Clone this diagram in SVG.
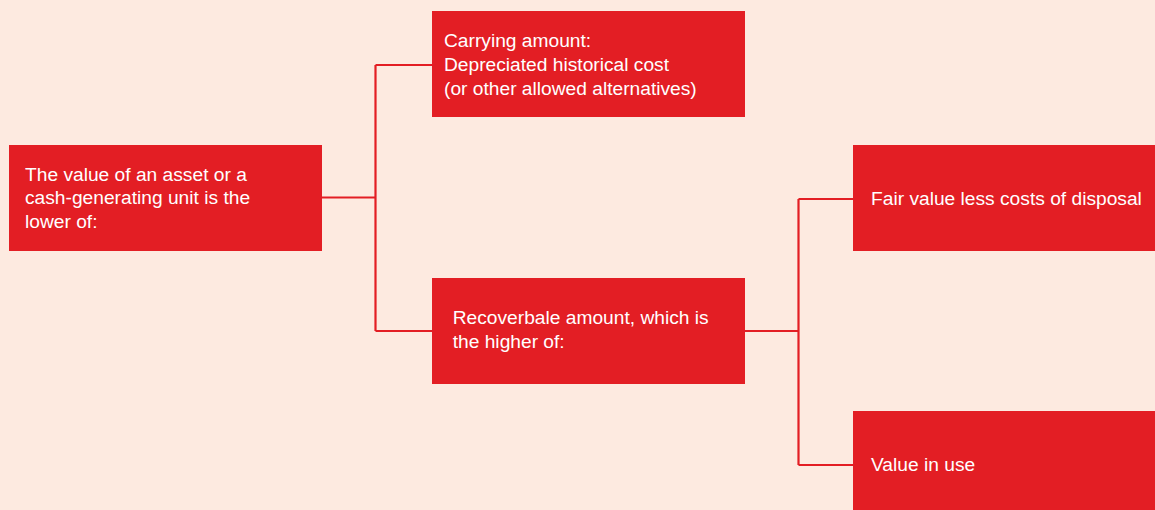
<svg xmlns="http://www.w3.org/2000/svg" width="1155" height="510" viewBox="0 0 1155 510">
<style>
.box{fill:#E31E24}
.t{font-family:"Liberation Sans",Arial,sans-serif;font-size:19.2px;fill:#FFFFFF}
.c{fill:none;stroke:#E31E24;stroke-width:2.2}
</style>
<rect width="1155" height="510" fill="#FDEAE0"/>
<g id="connectors">
<path class="c" d="M322 197.5 H375.5 M375.5 65 V331 M375.5 65 H432 M375.5 331 H432"/>
<path class="c" d="M745 331 H798.5 M798.5 199 V465 M798.5 199 H853 M798.5 465 H853"/>
</g>
<g id="node-value">
<rect class="box" x="9" y="145" width="313" height="106"/>
<text class="t"><tspan x="25" y="180.7">The value of an asset or a</tspan><tspan x="25" y="204.2">cash-generating unit is the</tspan><tspan x="25" y="227.7">lower of:</tspan></text>
</g>
<g id="node-carrying">
<rect class="box" x="432" y="11" width="313" height="106"/>
<text class="t"><tspan x="444" y="46.7">Carrying amount:</tspan><tspan x="444" y="70.7">Depreciated historical cost</tspan><tspan x="444" y="94.7">(or other allowed alternatives)</tspan></text>
</g>
<g id="node-recoverable">
<rect class="box" x="432" y="278" width="313" height="106"/>
<text class="t"><tspan x="452.7" y="324.3">Recoverbale amount, which is</tspan><tspan x="452.7" y="347.8">the higher of:</tspan></text>
</g>
<g id="node-fairvalue">
<rect class="box" x="853" y="145" width="302" height="106"/>
<text class="t" x="871" y="205">Fair value less costs of disposal</text>
</g>
<g id="node-valueinuse">
<rect class="box" x="853" y="411" width="302" height="99"/>
<text class="t" x="871" y="470.7">Value in use</text>
</g>
</svg>
